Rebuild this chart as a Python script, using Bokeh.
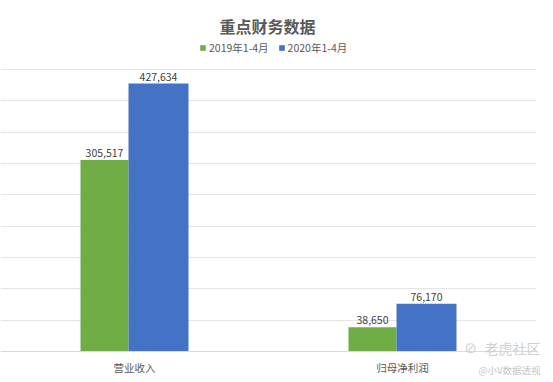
from bokeh.plotting import figure
from bokeh.models import (ColumnDataSource, FixedTicker, Label, Legend, LegendItem, Range1d,
                          BoxAnnotation)
from bokeh.transform import dodge
from bokeh.embed import file_html
from bokeh.resources import INLINE

# ---- data ----
categories = ["营业收入", "归母净利润"]
series_names = ["2019年1-4月", "2020年1-4月"]
values_2019 = [305517, 38650]
values_2020 = [427634, 76170]
grid_ticks = [50000, 100000, 150000, 200000, 250000, 300000, 350000, 400000, 450000]
title_text = "重点财务数据"
watermark_main = "老虎社区"
watermark_sub = "@小V数据透视"

# ---- layout ----
FONT = "Noto Sans CJK SC"
W, H = 553, 382
BASE_PX = 351.0            # pixel row of the value axis zero line
TOP_TICK_PX = 69.0         # pixel row of the highest grid line
PLOT_RIGHT_PX = 536.0      # right end of grid lines
PX_PER_CAT = 268.0
VAL_PER_PX = grid_ticks[-1] / (BASE_PX - TOP_TICK_PX)
X_START = -0.5
X_END = X_START + W / PX_PER_CAT
X_PLOT_END = X_START + PLOT_RIGHT_PX / PX_PER_CAT


def px_y(fy):
    return (BASE_PX - fy) * VAL_PER_PX


src = ColumnDataSource(dict(
    x=list(range(len(categories))),
    v1=values_2019,
    v2=values_2020,
    l1=[f"{v:,}" for v in values_2019],
    l2=[f"{v:,}" for v in values_2020],
))

p = figure(width=W, height=H, output_backend="svg", toolbar_location=None,
           x_range=Range1d(X_START, X_END), y_range=Range1d(px_y(H), px_y(0)),
           min_border_left=0, min_border_right=0, min_border_top=0, min_border_bottom=0)
p.outline_line_color = None
p.background_fill_color = "white"
p.border_fill_color = "white"

off1, w1 = -30 / PX_PER_CAT, 48 / PX_PER_CAT
off2, w2 = 24 / PX_PER_CAT, 60 / PX_PER_CAT

r1 = p.vbar(x=dodge("x", off1), top="v1", bottom=0, width=w1, source=src,
            fill_color="#70AD47", line_color=None)
r2 = p.vbar(x=dodge("x", off2), top="v2", bottom=0, width=w2, source=src,
            fill_color="#4472C4", line_color=None)

for off, ycol, tcol in ((off1, "v1", "l1"), (off2, "v2", "l2")):
    p.text(x=dodge("x", off), y=ycol, text=tcol, source=src,
           text_align="center", text_baseline="bottom", y_offset=-3,
           text_font_size="10.5px", text_color="#404040", text_font={"value": FONT})

# axes / grid
p.yaxis.visible = False
p.xgrid.grid_line_color = None
p.ygrid.ticker = FixedTicker(ticks=grid_ticks)
p.ygrid.grid_line_color = "#e4e4e4"
# hide grid beyond the plot's right end
p.add_layout(BoxAnnotation(left=X_PLOT_END, fill_color="white", fill_alpha=1,
                           line_color=None))

xa = p.xaxis[0]
xa.fixed_location = 0
xa.bounds = (X_START, X_PLOT_END)
xa.ticker = FixedTicker(ticks=list(range(len(categories))))
xa.major_label_overrides = {i: c for i, c in enumerate(categories)}
xa.axis_line_color = "#d9d9d9"
xa.major_tick_line_color = None
xa.minor_tick_line_color = None
xa.major_tick_out = 0
xa.major_tick_in = 0
xa.major_label_standoff = 8
xa.major_label_text_font = FONT
xa.major_label_text_font_size = "10.5px"
xa.major_label_text_color = "#595959"

# title
p.add_layout(Label(x=267, y=px_y(25), x_units="screen", text=title_text, text_align="center",
                   text_baseline="middle", text_font=FONT, text_font_size="16px",
                   text_font_style="bold", text_color="#595959"))

# legend
legend = Legend(items=[LegendItem(label=series_names[0], renderers=[r1]),
                       LegendItem(label=series_names[1], renderers=[r2])],
                orientation="horizontal", location=(199, H - 55),
                glyph_width=7, glyph_height=7, label_standoff=3, spacing=9,
                padding=0, margin=0, border_line_alpha=0, background_fill_alpha=0,
                label_text_font=FONT, label_text_font_size="10.5px",
                label_text_color="#595959", label_height=14)
p.add_layout(legend)

# watermark
p.add_layout(Label(x=464, y=px_y(347), x_units="screen", text="⊘",
                   text_align="left", text_baseline="middle", text_font="DejaVu Sans",
                   text_font_size="15px", text_color="#d4d4d4"))
p.add_layout(Label(x=484, y=px_y(347), x_units="screen", text=watermark_main,
                   text_align="left", text_baseline="middle", text_font=FONT,
                   text_font_size="14px", text_color="#cfcfcf"))
p.add_layout(Label(x=478, y=px_y(369), x_units="screen", text=watermark_sub,
                   text_align="left", text_baseline="middle", text_font=FONT,
                   text_font_size="9.5px", text_color="#c4c4c4"))

open("out.html", "w").write(file_html(p, INLINE))
